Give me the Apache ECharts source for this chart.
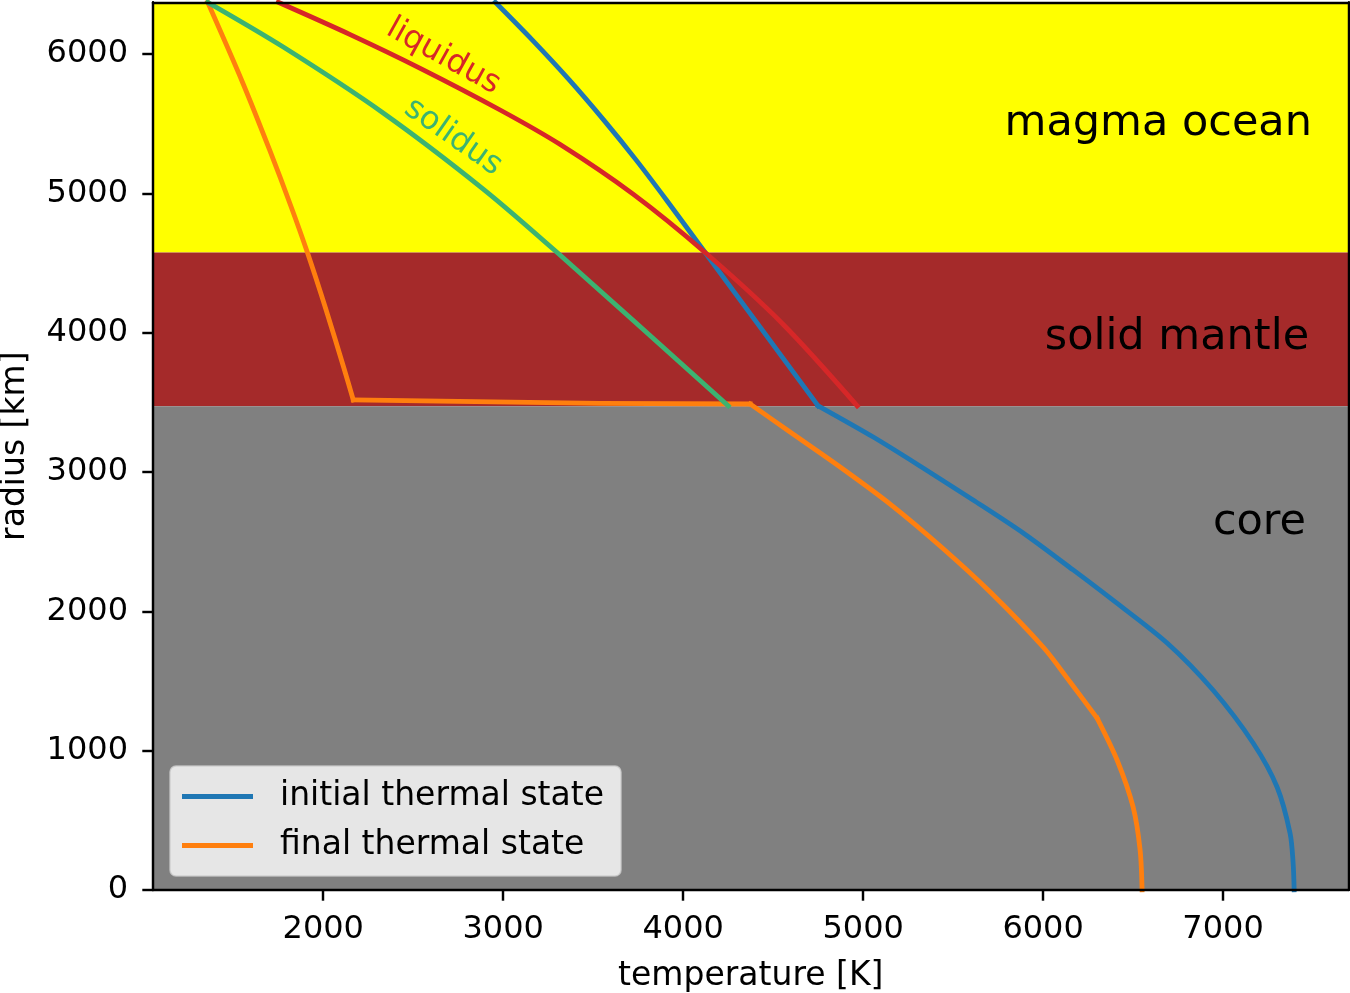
<!DOCTYPE html>
<html><head><meta charset="utf-8">
<script src="https://cdn.jsdelivr.net/npm/echarts@6/dist/echarts.min.js"></script>
<style>html,body{margin:0;padding:0;background:#fff}#c{width:1350px;height:993px}</style>
</head><body><div id="c"></div>
<script>
// ---- data ----
const xTicks = [2000, 3000, 4000, 5000, 6000, 7000];
const yTicks = [0, 1000, 2000, 3000, 4000, 5000, 6000];
const xRange = [1054, 7697];
const yRange = [0, 6371];
const coreTop = 3471;
const mantleTop = 4575;

// [temperature K, radius km]
const initialState = [[2956,6371],[3161,6101],[3367,5814],[3558,5527],[3738,5240],[3907,4952],[4122,4575],[4436,4025],[4750,3475],[5056,3251],[5333,3029],[5611,2799],[5889,2562],[6167,2297],[6372,2096],[6689,1773],[6944,1435],[7167,1055],[7300,739],[7372,409],[7389,200],[7395,0]];
const finalState = [[1358,6371],[1553,5792],[1702,5311],[1822,4902],[1912,4575],[2016,4163],[2113,3754],[2167,3517],[3539,3492],[4372,3488],[4594,3287],[4872,3036],[5150,2770],[5428,2469],[5706,2139],[6000,1744],[6150,1493],[6300,1234],[6411,933],[6500,596],[6539,287],[6550,0]];
const liquidus = [[1750,6371],[2150,6139],[2539,5897],[2983,5598],[3317,5350],[3722,4994],[4122,4575],[4556,4059],[4967,3475]];
const solidus = [[1358,6371],[1778,6050],[2333,5577],[2889,5031],[3300,4575],[4250,3475]];
// indices of sharp kinks in each profile (curve is smooth between kinks)
const initialKinks = [8];
const finalKinks = [7, 9, 17];

const regionNames = ['magma ocean', 'solid mantle', 'core'];
const curveNames = ['liquidus', 'solidus'];
const seriesNames = ['initial thermal state', 'final thermal state'];

// annotation anchors (data coordinates)
const regionAnchors = [[7494, 5500], [7478, 3965], [7461, 2635]];
const curveAnchors = [[2667, 5982], [2722, 5404]];

// ---- chart ----
const FONT = 'DejaVu Sans';
const BLUE = '#1f77b4', ORANGE = '#ff7f0e', RED = '#d62728', GREEN = '#3cb371';
const LW = 4.8;
const chart = echarts.init(document.getElementById('c'), null, {renderer: 'canvas'});

const axisLineStyle = {color: '#000', width: 2.45};
const lineSeries = (name, data, color, z, smooth) => ({
  name, type: 'line', data, showSymbol: false, symbol: 'none', z,
  smooth: smooth ? 0.3 : false,
  lineStyle: {color, width: LW, cap: 'square', join: 'round'},
  itemStyle: {color}, emphasis: {disabled: true}, animation: false
});
function splitAt(data, kinks) {
  const parts = [];
  let start = 0;
  kinks.forEach(k => { parts.push(data.slice(start, k + 1)); start = k; });
  parts.push(data.slice(start));
  return parts;
}
const fmt = v => String(v);

const option = {
  animation: false,
  textStyle: {fontFamily: FONT},
  grid: {left: 153, right: 1.5, top: 2.3, bottom: 103, containLabel: false, outerBoundsMode: 'none'},
  xAxis: [{
    type: 'value', min: xRange[0], max: xRange[1], z: 10,
    axisLine: {show: true, onZero: false, lineStyle: axisLineStyle},
    axisTick: {show: true, length: 10.7, lineStyle: axisLineStyle, customValues: xTicks},
    axisLabel: {show: true, customValues: xTicks, formatter: fmt, fontSize: 32, color: '#000', margin: 24, fontFamily: FONT},
    splitLine: {show: false},
    name: 'temperature [K]', nameLocation: 'middle', nameGap: 70,
    nameTextStyle: {fontSize: 33, color: '#000', fontFamily: FONT}
  }, {
    type: 'value', position: 'top', min: xRange[0], max: xRange[1], z: 10,
    axisLine: {show: true, onZero: false, lineStyle: axisLineStyle},
    axisTick: {show: false}, axisLabel: {show: false}, splitLine: {show: false}
  }],
  yAxis: [{
    type: 'value', min: yRange[0], max: yRange[1], z: 10,
    axisLine: {show: true, onZero: false, lineStyle: axisLineStyle},
    axisTick: {show: true, length: 10.7, lineStyle: axisLineStyle, customValues: yTicks},
    axisLabel: {show: true, customValues: yTicks, formatter: fmt, fontSize: 32, color: '#000', margin: 25, fontFamily: FONT},
    splitLine: {show: false},
    name: 'radius [km]', nameLocation: 'middle', nameGap: 121,
    nameTextStyle: {fontSize: 33, color: '#000', fontFamily: FONT}
  }, {
    type: 'value', position: 'right', min: yRange[0], max: yRange[1], z: 10,
    axisLine: {show: true, onZero: false, lineStyle: axisLineStyle},
    axisTick: {show: false}, axisLabel: {show: false}, splitLine: {show: false}
  }],
  legend: {
    data: seriesNames, orient: 'vertical', left: 170, top: 766,
    padding: [14, 17, 14, 12], itemGap: 16, itemWidth: 71, itemHeight: LW,
    icon: 'rect', backgroundColor: 'rgba(255,255,255,0.8)',
    borderColor: 'rgba(204,204,204,0.8)', borderWidth: 1.5, borderRadius: 6,
    textStyle: {fontSize: 33, color: '#000', fontFamily: FONT, lineHeight: 33, padding: [0, 0, 0, 22]},
    selectedMode: false
  },
  series: [
    {
      name: 'layers', type: 'line', data: [], z: 1, silent: true,
      markArea: {
        silent: true,
        data: [
          [{coord: [xRange[0], mantleTop], itemStyle: {color: '#ffff00', opacity: 1}}, {coord: [xRange[1], yRange[1]]}],
          [{coord: [xRange[0], coreTop], itemStyle: {color: '#a52a2a', opacity: 1}}, {coord: [xRange[1], mantleTop]}],
          [{coord: [xRange[0], yRange[0]], itemStyle: {color: '#808080', opacity: 1}}, {coord: [xRange[1], coreTop]}]
        ]
      }
    },
    ...splitAt(initialState, initialKinks).map(d => lineSeries(seriesNames[0], d, BLUE, 3, true)),
    ...splitAt(finalState, finalKinks).map((d, i) => lineSeries(seriesNames[1], d, ORANGE, 4, i !== 1)),
    lineSeries('liquidus line', liquidus, RED, 5, true),
    lineSeries('solidus line', solidus, GREEN, 6, true),
    {
      name: 'region labels', type: 'scatter', symbolSize: 0, z: 8, silent: true,
      itemStyle: {opacity: 1},
      data: regionAnchors.map((p, i) => ({value: p, name: regionNames[i]})),
      label: {show: true, position: 'inside', formatter: p => p.name, align: 'right', verticalAlign: 'middle',
              fontSize: 43, color: '#000', opacity: 1, fontFamily: FONT}
    },
    {
      name: 'curve labels', type: 'scatter', symbolSize: 0, z: 8, silent: true,
      itemStyle: {opacity: 1},
      data: curveAnchors.map((p, i) => ({
        value: p, name: curveNames[i],
        label: {color: i === 0 ? RED : GREEN, rotate: i === 0 ? -29 : -35}
      })),
      label: {show: true, position: 'inside', formatter: p => p.name, align: 'center', verticalAlign: 'middle',
              fontSize: 32, opacity: 1, fontFamily: FONT}
    }
  ]
};
chart.setOption(option);
</script>
</body></html>
